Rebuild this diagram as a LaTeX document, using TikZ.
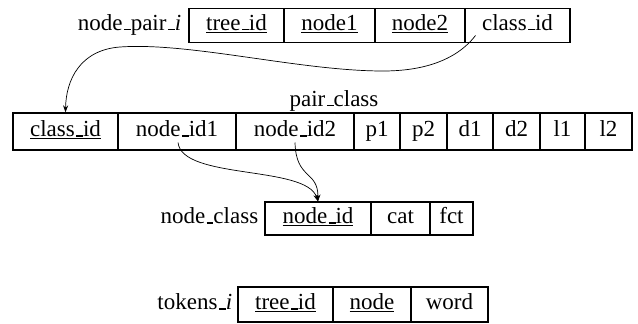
\documentclass[tikz,border=0pt]{standalone}
\usepackage{fontspec}
\setmainfont{Liberation Serif}
\usetikzlibrary{arrows.meta,positioning}
\newcommand\us{\leavevmode\kern.06em\vbox{\hrule width.3em height .045em}}
\begin{document}
\begin{tikzpicture}[x=1pt,y=-1pt,
  font=\fontsize{23}{27}\selectfont,
  cell/.style={draw,line width=1.2pt,inner sep=0pt,text height=15pt,text depth=5pt,anchor=center},
  tlabel/.style={inner sep=0pt,text height=15pt,text depth=5pt},
  link/.style={line width=0.7pt,-{Stealth[length=7pt,width=5pt]}}]
\useasboundingbox (0,0) rectangle (638,324);
% node_pair_i
\node[cell,minimum width=95pt,minimum height=34pt] (a1) at (236.5,25.5) {\underline{tree\us id}};
\node[cell,minimum width=91pt,minimum height=34pt] (a2) at (329.5,25.5) {\underline{node1}};
\node[cell,minimum width=90pt,minimum height=34pt] (a3) at (420,25.5) {\underline{node2}};
\node[cell,minimum width=105pt,minimum height=34pt] (a4) at (517.5,25.5) {class\us id};
\node[tlabel,left=7pt of a1] (la) {node\us pair\us\textit{i}};
% pair_class
\node[cell,minimum width=105pt,minimum height=37pt] (b1) at (65.5,131.5) {\underline{class\us id}};
\node[cell,minimum width=118pt,minimum height=37pt] (b2) at (177,131.5) {node\us id1};
\node[cell,minimum width=118pt,minimum height=37pt] (b3) at (295,131.5) {node\us id2};
\node[cell,minimum width=46pt,minimum height=37pt] (b4) at (377,131.5) {p1};
\node[cell,minimum width=47pt,minimum height=37pt] (b5) at (423.5,131.5) {p2};
\node[cell,minimum width=46pt,minimum height=37pt] (b6) at (470,131.5) {d1};
\node[cell,minimum width=47pt,minimum height=37pt] (b7) at (516.5,131.5) {d2};
\node[cell,minimum width=45pt,minimum height=37pt] (b8) at (562.5,131.5) {l1};
\node[cell,minimum width=47pt,minimum height=37pt] (b9) at (608.5,131.5) {l2};
\node[inner sep=0pt,anchor=base] (lb) at (334,106) {pair\us class};
% node_class
\node[cell,minimum width=106pt,minimum height=33pt] (c1) at (318,218.5) {\underline{node\us id}};
\node[cell,minimum width=59pt,minimum height=33pt] (c2) at (400.5,218.5) {cat};
\node[cell,minimum width=43pt,minimum height=33pt] (c3) at (451.5,218.5) {fct};
\node[tlabel,left=6pt of c1] (lc) {node\us class};
% tokens_i
\node[cell,minimum width=95pt,minimum height=35pt] (d1) at (285.5,304.5) {\underline{tree\us id}};
\node[cell,minimum width=78pt,minimum height=35pt] (d2) at (372,304.5) {\underline{node}};
\node[cell,minimum width=77pt,minimum height=35pt] (d3) at (449.5,304.5) {word};
\node[tlabel,left=5pt of d1] (ld) {tokens\us\textit{i}};
% connectors
\coordinate (s1) at ([xshift=-42pt,yshift=-10pt]a4.center);
\coordinate (m1) at (383,71);
\coordinate (m2) at (120,47);
\draw[link] (s1) .. controls (455,62) and (420,71) .. (m1)
  .. controls (300,71) and (190,42) .. (m2)
  .. controls (80,50) and (66,80) .. (b1.north);
\coordinate (s2) at ([xshift=1pt,yshift=-11pt]b2.center);
\coordinate (s3) at ([yshift=-11pt]b3.center);
\draw[link] (s2) .. controls (182,180) and (306,165) .. (c1.north);
\draw[link] (s3) .. controls (296,180) and (318,170) .. (c1.north);
\end{tikzpicture}
\end{document}
